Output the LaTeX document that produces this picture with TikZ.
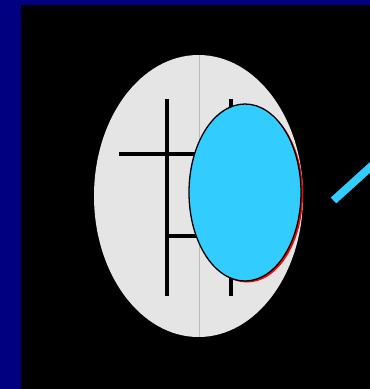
\documentclass[tikz,border=0pt]{standalone}
\begin{document}
\begin{tikzpicture}[x=1pt,y=-1pt,
  blk/.style={line width=4pt,draw=black},
  lens/.style={fill=cyanish,draw=black,line width=1.3pt}]
\definecolor{navybg}{HTML}{000080}
\definecolor{cyanish}{HTML}{33CCFF}
\definecolor{greyfill}{HTML}{E5E5E5}
\definecolor{divider}{HTML}{BBBBBB}
\useasboundingbox (0,0) rectangle (370,389);
\fill[navybg] (0,0) rectangle (370,389);
\fill[black] (21,5) rectangle (370,389);
% grey disc
\fill[greyfill] (198.5,196) ellipse [x radius=104.5, y radius=141];
\draw[divider,line width=1pt] (199,55) -- (199,337);
% black bars
\coordinate (a1) at (166.5,99); \coordinate (a2) at (166.5,296);
\coordinate (b1) at (230.5,99); \coordinate (b2) at (230.5,296);
\coordinate (c1) at (119,154); \coordinate (c2) at (200,154);
\coordinate (d1) at (166.5,236); \coordinate (d2) at (205,236);
\draw[blk] (a1) -- (a2);
\draw[blk] (b1) -- (b2);
\draw[blk] (c1) -- (c2);
\draw[blk] (d1) -- (d2);
% red shadow and cyan lens
\fill[red] (247,194) ellipse [x radius=56, y radius=88.5];
\draw[lens] (245,192.5) ellipse [x radius=56, y radius=88.5];
% cyan bar
\coordinate (e1) at (333.5,200.5); \coordinate (e2) at (376,162);
\draw[cyanish,line width=8pt] (e1) -- (e2);
\end{tikzpicture}
\end{document}
